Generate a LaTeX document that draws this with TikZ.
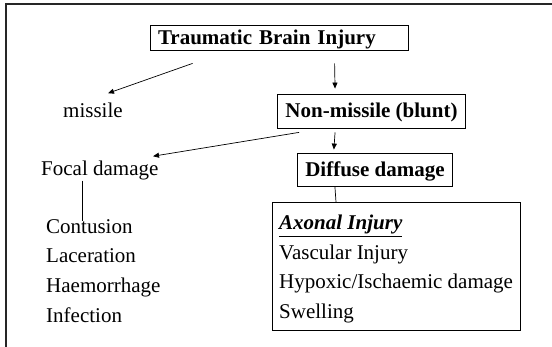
\documentclass[tikz,border=0pt]{standalone}
\usepackage{fontspec}
\setmainfont{Liberation Serif}
\usetikzlibrary{arrows.meta, positioning, calc}

\begin{document}
\begin{tikzpicture}[
    x=1pt, y=-1pt,
    font=\fontsize{21}{25}\selectfont,
    box/.style={draw, line width=0.8pt, text height=14pt, text depth=0pt, inner xsep=8pt,
        font=\fontsize{21}{25}\selectfont\bfseries},
    item/.style={anchor=base west, inner sep=0pt},
    arr/.style={-{Triangle[length=6pt, width=5pt]}, line width=0.7pt},
    link/.style={line width=0.7pt},
    frame/.style={line width=1.5pt, black!85},
]
\useasboundingbox (0,0) rectangle (552,347);

% ===== marco =====
\draw[frame] (6,347) -- (6,4) -- (552,4);

% ===== cajas =====
\node[box, inner ysep=5.5pt, text width=242pt, align=left] (tbi) at (279,37.5) {Traumatic Brain Injury};
\node[box, inner ysep=10pt] (nonm) at (371.5,111) {Non-missile (blunt)};
\node[box, inner ysep=9.5pt] (dif) at (375,169.5) {Diffuse damage};

% ===== textos sueltos =====
\node[item] (missile) at (63,118) {missile};
\node[item] (focal) at (41,176) {Focal damage};

% focal: lista
\foreach \t [count=\i] in {Contusion, Laceration, Haemorrhage, Infection}
    \node[item] (f\i) at (46, 203.5+29.7*\i) {\t};

% difuso: caja con lista
\node[draw, line width=0.8pt, minimum width=248pt, minimum height=128pt, inner sep=0pt,
    anchor=north west] (dbox) at (272,202) {};
\foreach \t [count=\i] in {{\underline{\textbf{\textit{Axonal Injury}}}}, Vascular Injury,
        Hypoxic/Ischaemic damage, Swelling}
    \node[item] (d\i) at (279, 200.5+29.5*\i) {\t};

% ===== flechas =====
\draw[arr] ($(tbi.south west)+(43,13)$) -- ($(missile.north west)+(45,-10)$);
\draw[arr] ($(tbi.south west)+(185,13)$) -- ($(nonm.north west)+(58,-5)$);
\draw[arr] ($(nonm.south west)+(22,4)$) -- ($(focal.north west)+(112,-5)$);
\draw[arr] ($(nonm.south west)+(58,4)$) -- ($(dif.north west)+(37,-3)$);
\draw[link] ($(focal.south west)+(41,0)$) -- ($(f1.north west)+(36,2)$);
\draw[link] ($(dif.south west)+(38,0)$) -- ($(dbox.north west)+(64,0)$);

\end{tikzpicture}
\end{document}
